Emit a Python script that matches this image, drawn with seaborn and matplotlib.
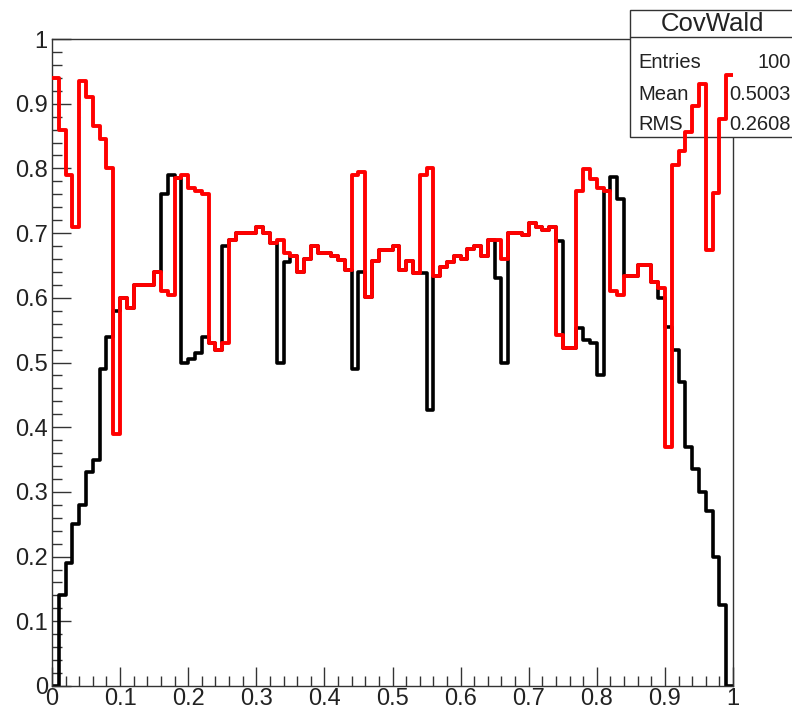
import numpy as np
import pandas as pd
import matplotlib
matplotlib.use("Agg")
import matplotlib.pyplot as plt
import seaborn as sns
from matplotlib.patches import Rectangle
from matplotlib.ticker import MultipleLocator

# ---- data: bin contents, 100 bins on [0, 1] ----
cov_wald = [
    0.00, 0.14, 0.19, 0.25, 0.28, 0.33, 0.35, 0.49, 0.54, 0.58,
    0.60, 0.585, 0.62, 0.62, 0.62, 0.64, 0.76, 0.79, 0.785, 0.50,
    0.505, 0.515, 0.54, 0.53, 0.52, 0.68, 0.69, 0.70, 0.70, 0.70,
    0.71, 0.70, 0.685, 0.50, 0.655, 0.665, 0.64, 0.66, 0.68, 0.67,
    0.67, 0.664, 0.659, 0.643, 0.49, 0.64, 0.602, 0.657, 0.674, 0.674,
    0.68, 0.643, 0.657, 0.638, 0.638, 0.426, 0.633, 0.648, 0.655, 0.665,
    0.66, 0.675, 0.68, 0.665, 0.69, 0.63, 0.50, 0.70, 0.70, 0.697,
    0.715, 0.71, 0.705, 0.709, 0.688, 0.522, 0.522, 0.553, 0.535, 0.53,
    0.48, 0.765, 0.786, 0.752, 0.633, 0.633, 0.651, 0.65, 0.625, 0.60,
    0.555, 0.52, 0.47, 0.37, 0.335, 0.30, 0.27, 0.20, 0.125, 0.00,
]
cov_other = [
    0.94, 0.86, 0.79, 0.71, 0.935, 0.91, 0.865, 0.845, 0.80, 0.39,
    0.60, 0.585, 0.62, 0.62, 0.62, 0.64, 0.61, 0.605, 0.785, 0.79,
    0.77, 0.765, 0.76, 0.53, 0.52, 0.53, 0.69, 0.70, 0.70, 0.70,
    0.71, 0.70, 0.685, 0.69, 0.67, 0.665, 0.64, 0.66, 0.68, 0.67,
    0.67, 0.664, 0.659, 0.643, 0.79, 0.795, 0.602, 0.657, 0.674, 0.674,
    0.68, 0.643, 0.657, 0.638, 0.79, 0.80, 0.633, 0.648, 0.655, 0.665,
    0.66, 0.675, 0.68, 0.665, 0.69, 0.69, 0.66, 0.70, 0.70, 0.697,
    0.715, 0.71, 0.705, 0.709, 0.542, 0.522, 0.522, 0.765, 0.799, 0.783,
    0.77, 0.765, 0.61, 0.605, 0.633, 0.633, 0.651, 0.65, 0.625, 0.615,
    0.37, 0.806, 0.827, 0.856, 0.897, 0.93, 0.674, 0.762, 0.876, 0.944,
]
n_bins = 100
x_lo, x_hi = 0.0, 1.0
stats_title = "CovWald"
stats_rows = [("Entries", "100"), ("Mean", "0.5003"), ("RMS", "0.2608")]

sns.set_theme(style="white")
plt.rcParams["font.family"] = ["Liberation Sans", "DejaVu Sans"]

W, H = 792, 713
fig = plt.figure(figsize=(W / 100, H / 100), dpi=100)
fig.patch.set_facecolor("white")
L, R, T, B = 52, 733, 39, 686
ax = fig.add_axes([L / W, 1 - B / H, (R - L) / W, (B - T) / H])

edges = np.linspace(x_lo, x_hi, n_bins + 1)
centers = 0.5 * (edges[:-1] + edges[1:])
df_wald = pd.DataFrame({"x": centers, "w": cov_wald})
df_other = pd.DataFrame({"x": centers, "w": cov_other})

sns.histplot(data=df_wald, x="x", weights="w", bins=n_bins, binrange=(x_lo, x_hi),
             element="step", fill=False, color="black", linewidth=2.6, ax=ax, zorder=2)
sns.histplot(data=df_other, x="x", weights="w", bins=n_bins, binrange=(x_lo, x_hi),
             element="step", fill=False, color="#ff0000", linewidth=2.8, ax=ax, zorder=4)

ax.set_xlim(x_lo, x_hi)
ax.set_ylim(0, 1)
ax.set_xlabel("")
ax.set_ylabel("")
ax.set_facecolor("white")
for s in ax.spines.values():
    s.set_color("#333333")
    s.set_linewidth(1.0)

ax.xaxis.set_major_locator(MultipleLocator(0.1))
ax.xaxis.set_minor_locator(MultipleLocator(0.02))
ax.yaxis.set_major_locator(MultipleLocator(0.1))
ax.yaxis.set_minor_locator(MultipleLocator(0.02))

def fmt(v, pos=None):
    s = f"{v:.1f}"
    if s.endswith(".0"):
        s = s[:-2]
    return s

ax.xaxis.set_major_formatter(plt.FuncFormatter(fmt))
ax.yaxis.set_major_formatter(plt.FuncFormatter(fmt))
ax.tick_params(axis="both", which="major", direction="in", length=13.5, width=1.0,
               color="#333333", labelsize=17, labelcolor="#222222", top=False,
               right=False, bottom=True, left=True)
ax.tick_params(axis="both", which="minor", direction="in", length=7, width=1.0,
               color="#333333", top=False, right=False, bottom=True, left=True)
ax.tick_params(axis="x", which="major", pad=1.5)
ax.tick_params(axis="y", which="major", pad=3)

# ---- stats box (ROOT style) ----
bx0, by0, by1 = 630, 10, 137
tb = 37
box = Rectangle((bx0 / W, 1 - by1 / H), (W + 5 - bx0) / W, (by1 - by0) / H,
                transform=fig.transFigure, facecolor="white", edgecolor="#333333",
                linewidth=1.0, clip_on=False, zorder=3)
ax.add_patch(box)
ax.plot([bx0 / W, (W + 5) / W], [1 - tb / H, 1 - tb / H], transform=fig.transFigure,
        color="#333333", linewidth=1.0, clip_on=False, zorder=3.1)
ax.text(712 / W, 1 - 24 / H, stats_title, transform=fig.transFigure, ha="center",
        va="center", fontsize=18.5, color="#222222", zorder=3.2)
row_y = [62, 94, 124]
for (k, v), yy in zip(stats_rows, row_y):
    ax.text(638 / W, 1 - yy / H, k, transform=fig.transFigure, ha="left",
            va="center", fontsize=14.5, color="#222222", zorder=3.2)
    ax.text(791 / W, 1 - yy / H, v, transform=fig.transFigure, ha="right",
            va="center", fontsize=14.5, color="#222222", zorder=3.2)

fig.savefig("out.png", dpi=100, facecolor="white")
